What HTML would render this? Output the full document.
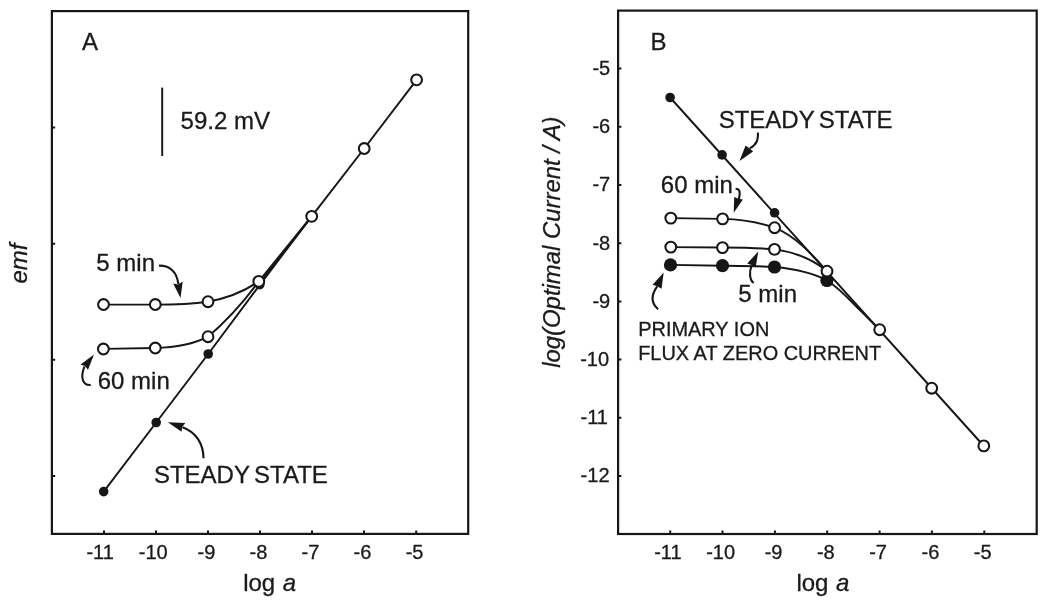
<!DOCTYPE html>
<html lang="en">
<head>
<meta charset="utf-8">
<title>Figure: emf and optimal current vs log a</title>
<style>
  html, body { margin: 0; padding: 0; background: #ffffff; }
  body { width: 1050px; height: 605px; overflow: hidden; }
  svg { display: block; filter: grayscale(100%); }
  text { font-family: "Liberation Sans", Arial, Helvetica, sans-serif; fill: #1a1a1a; stroke: #1a1a1a; stroke-width: 0.3px; }
  .t20 { font-size: 20px; }
  .t24 { font-size: 24px; }
  .t19 { font-size: 19.95px; }
  .t238 { font-size: 23.8px; }
  .it { font-style: italic; }
  .ln { fill: none; stroke: #161616; stroke-width: 1.95; }
  .ar { fill: none; stroke: #161616; stroke-width: 2.1; }
  .frame { fill: none; stroke: #161616; stroke-width: 2.2; }
  .tick { fill: none; stroke: #161616; stroke-width: 2; }
  .oc { fill: #ffffff; stroke: #161616; stroke-width: 2.05; }
  .dot { fill: #161616; stroke: none; }
  .ah { fill: #161616; stroke: none; }
</style>
</head>
<body>
<svg width="1050" height="605" viewBox="0 0 1050 605">
  <rect x="0" y="0" width="1050" height="605" fill="#ffffff"/>

  <!-- ================= PANEL A ================= -->
  <g id="panelA">
    <rect class="frame" x="51.9" y="11.1" width="416.3" height="522.8"/>
    <!-- x ticks -->
    <path class="tick" d="M104,533.9V530.4 M156,533.9V530.4 M208,533.9V530.4 M260,533.9V530.4 M312,533.9V530.4 M364,533.9V530.4 M416.2,533.9V530.4"/>
    <!-- y ticks -->
    <path class="tick" d="M51.9,127.5H55.2 M51.9,243.8H55.2 M51.9,359.8H55.2 M51.9,476H55.2"/>
    <!-- x tick labels -->
    <g class="t20" text-anchor="middle">
      <text x="100.1" y="559.2">-11</text>
      <text x="153.2" y="559.2">-10</text>
      <text x="206.5" y="559.4">-9</text>
      <text x="258.4" y="559.4">-8</text>
      <text x="310.4" y="559.4">-7</text>
      <text x="362.4" y="559.4">-6</text>
      <text x="414.6" y="559.4">-5</text>
    </g>
    <text class="t24" x="243.2" y="590.6" word-spacing="0.8">log <tspan class="it">a</tspan></text>
    <text class="t24 it" transform="translate(26.9,283.5) rotate(-90)">emf</text>
    <text class="t24" x="82" y="50.4">A</text>

    <!-- scale bar -->
    <path class="ln" d="M162.2,87.6V156"/>
    <text class="t24" x="180.6" y="128.8">59.2 mV</text>

    <!-- steady state line -->
    <path class="ln" d="M103.7,491.6 L156.2,422.5 L208.2,354 L259.8,284.8 L311.7,216.3 L364.2,148.5 L416.6,79.8"/>
    <path class="ln" d="M259.4,283.2 L311.7,216.3"/>
    <!-- 5 min curve -->
    <path class="ln" d="M103.6,304.6 L155.2,304.6 C175,304.6 192,304 208,301.7 C226,298.5 245,291 258.8,281.4"/>
    <!-- 60 min curve -->
    <path class="ln" d="M103.6,348.9 L155.2,348 C176,347.6 194,344 208,336.7 C222,325 240,307 258.8,281.4"/>
    <!-- upper branch through open circles -->
    <path class="ln" d="M258.8,281.4 L311.7,216.3"/>

    <!-- filled dots -->
    <circle class="dot" cx="103.7" cy="491.6" r="4.8"/>
    <circle class="dot" cx="156.2" cy="422.5" r="4.8"/>
    <circle class="dot" cx="208.2" cy="354" r="4.8"/>
    <circle class="dot" cx="259.8" cy="284.6" r="4.8"/>
    <!-- open circles -->
    <g class="oc">
      <circle cx="103.5" cy="304.5" r="5.4"/>
      <circle cx="155.3" cy="304.5" r="5.4"/>
      <circle cx="208" cy="301.7" r="5.4"/>
      <circle cx="103.4" cy="349" r="5.4"/>
      <circle cx="155.3" cy="348" r="5.4"/>
      <circle cx="208" cy="336.7" r="5.4"/>
      <circle cx="258.8" cy="281.4" r="5.4"/>
      <circle cx="311.7" cy="216.3" r="5.4"/>
      <circle cx="364.2" cy="148.5" r="5.4"/>
      <circle cx="416.6" cy="79.8" r="5.4"/>
    </g>

    <!-- labels -->
    <text class="t24" x="96.3" y="270.6">5 min</text>
    <text class="t24" x="97.7" y="388.7">60 min</text>
    <text class="t24" x="153.9" y="482.6" word-spacing="-2.1">STEADY STATE</text>

    <!-- arrows -->
    <path class="ar" d="M159,265.6 C168,265.4 176.5,270 178.4,284"/>
    <path class="ah" d="M180.5,298 L173.2,283.4 L178.2,284.6 L182.7,281.6 Z"/>
    <path class="ar" d="M90.7,385 C84,385.5 79.5,379.5 84.4,366.5"/>
    <path class="ah" d="M94,354.4 L80.6,364.5 L84.8,366 L88,369.7 Z"/>
    <path class="ar" d="M203.5,458.3 C203.5,444 196,432 182.5,427.2"/>
    <path class="ah" d="M167.8,422.2 L185.3,423 L182.2,427 L181.5,431.7 Z"/>
  </g>

  <!-- ================= PANEL B ================= -->
  <g id="panelB">
    <rect class="frame" x="618.1" y="10.6" width="418.6" height="523.4"/>
    <!-- x ticks -->
    <path class="tick" d="M670.2,534V530.6 M722.5,534V530.6 M774.9,534V530.6 M827.2,534V530.6 M879.6,534V530.6 M931.9,534V530.6 M984.3,534V530.6"/>
    <!-- y ticks -->
    <path class="tick" d="M618.1,68.6H621.4 M618.1,126.8H621.4 M618.1,185H621.4 M618.1,243.2H621.4 M618.1,301.4H621.4 M618.1,359.6H621.4 M618.1,417.8H621.4 M618.1,476H621.4"/>
    <!-- x tick labels -->
    <g class="t20" text-anchor="middle">
      <text x="667.9" y="559.4">-11</text>
      <text x="720.6" y="559.4">-10</text>
      <text x="773.6" y="559.4">-9</text>
      <text x="825.8" y="559.4">-8</text>
      <text x="878.1" y="559.4">-7</text>
      <text x="930.4" y="559.4">-6</text>
      <text x="982.7" y="559.4">-5</text>
    </g>
    <!-- y tick labels -->
    <g class="t20" text-anchor="end">
      <text x="610.2" y="75.0">-5</text>
      <text x="610.2" y="133.2">-6</text>
      <text x="610.2" y="191.4">-7</text>
      <text x="610.2" y="249.6">-8</text>
      <text x="610.2" y="307.8">-9</text>
      <text x="609.1" y="366.0">-10</text>
      <text x="607.9" y="424.2">-11</text>
      <text x="609.5" y="482.4">-12</text>
    </g>
    <text class="t24" x="796.4" y="590.6" word-spacing="0.8">log <tspan class="it">a</tspan></text>
    <text class="it" font-size="23.9" transform="translate(560.1,367.8) rotate(-90)">log(Optimal Current / A)</text>
    <text class="t24" x="650.4" y="50.4">B</text>

    <!-- steady state line -->
    <path class="ln" d="M670.1,97.5L983.8,446"/>
    <!-- 60 min curve -->
    <path class="ln" d="M670.8,218.1 L722.6,218.9 C742,219.5 760,222.5 774.6,227.7 C795,236 812,254 827,271.3"/>
    <!-- 5 min curve -->
    <path class="ln" d="M670.8,247.1 L722.6,247.5 C742,247.6 760,248 774.6,249.4 C797,252.5 814,260 827,271.3"/>
    <!-- primary ion flux curve -->
    <path class="ln" d="M670.5,264.9 L722.5,265.7 C742,265.9 760,266 774.5,267 C797,269 814,273.5 827,280.5 C842,290 852,303 862,312 L879.7,329.7"/>

    <!-- small filled dots -->
    <circle class="dot" cx="670.1" cy="97.5" r="4.8"/>
    <circle class="dot" cx="722.1" cy="154.9" r="4.8"/>
    <circle class="dot" cx="774.6" cy="212.8" r="4.8"/>
    <!-- large filled dots -->
    <circle class="dot" cx="670.5" cy="264.9" r="6.6"/>
    <circle class="dot" cx="722.5" cy="265.7" r="6.6"/>
    <circle class="dot" cx="774.5" cy="267" r="6.6"/>
    <circle class="dot" cx="826.9" cy="280.5" r="6.6"/>
    <!-- open circles -->
    <g class="oc">
      <circle cx="670.8" cy="218.1" r="5.4"/>
      <circle cx="722.6" cy="218.9" r="5.4"/>
      <circle cx="774.6" cy="227.7" r="5.4"/>
      <circle cx="670.8" cy="247.1" r="5.4"/>
      <circle cx="722.5" cy="247.6" r="5.4"/>
      <circle cx="774.5" cy="249.4" r="5.4"/>
      <circle cx="827" cy="271.2" r="5.4"/>
      <circle cx="879.7" cy="329.7" r="5.4"/>
      <circle cx="931.7" cy="388.2" r="5.4"/>
      <circle cx="983.8" cy="445.9" r="5.4"/>
    </g>

    <!-- labels -->
    <text class="t24" x="718.7" y="127.6" word-spacing="-2.1">STEADY STATE</text>
    <text class="t24" x="660.8" y="193.2">60 min</text>
    <text class="t24" x="738.3" y="301.6">5 min</text>
    <text class="t19" x="638.2" y="336.3">PRIMARY ION</text>
    <text class="t19" x="638.2" y="360">FLUX AT ZERO CURRENT</text>

    <!-- arrows -->
    <path class="ar" d="M758,132.4 C758,140 757,144.5 749.8,148.4"/>
    <path class="ah" d="M739.5,160.9 L745.6,145.6 L749.6,148.6 L753.1,151.5 Z"/>
    <path class="ar" d="M735.6,188.8 C739.6,188.9 740.6,191.5 738.9,199"/>
    <path class="ah" d="M733.7,212.7 L734.2,197 L738.6,198.8 L742.9,199.6 Z"/>
    <path class="ar" d="M753.7,282.9 C749.5,280 749,272 751.6,265.6"/>
    <path class="ah" d="M758.3,251.4 L747.2,263.6 L751.6,265 L755.6,267.6 Z"/>
    <path class="ar" d="M658.1,309.3 C651,303 651,295 657.2,286.4"/>
    <path class="ah" d="M663.7,272.4 L652.6,284.8 L657.2,286.2 L661.5,288.7 Z"/>
  </g>
</svg>
</body>
</html>
